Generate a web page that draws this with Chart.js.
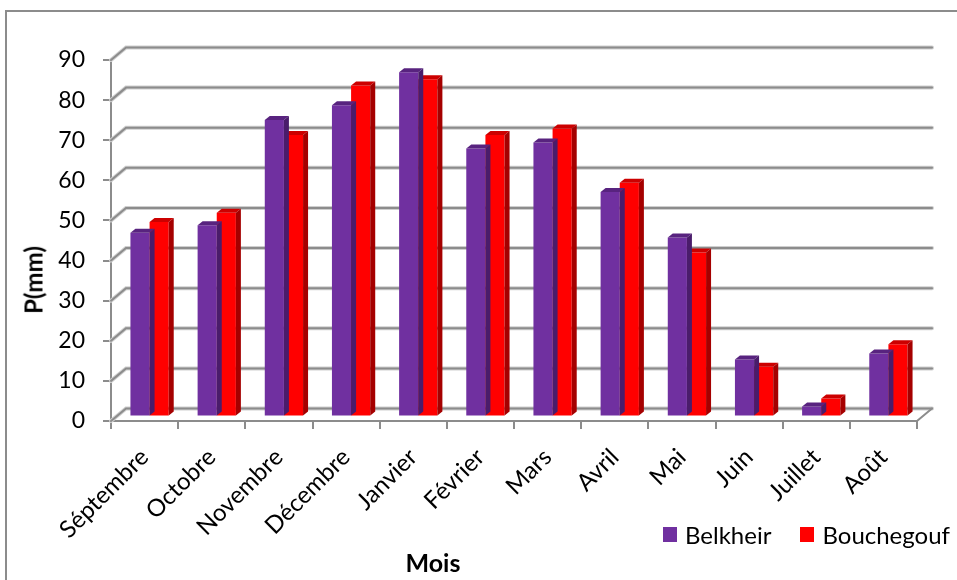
<!DOCTYPE html>
<html lang="fr">
<head>
<meta charset="utf-8">
<title>Précipitations mensuelles</title>
<script src="https://cdn.jsdelivr.net/npm/chart.js@4/dist/chart.umd.min.js"></script>
<style>
  html, body { margin: 0; padding: 0; background: #fff; overflow: hidden; }
  #wrap { position: relative; width: 957px; height: 580px; font-family: Lato, "Open Sans", sans-serif; }
  #frame { position: absolute; left: 5px; top: 10px; width: 1000px; height: 620px; border: 2px solid #8c8c8c; box-sizing: border-box; }
  canvas { position: absolute; left: 0; top: 0; }
  .title { position: absolute; font-weight: bold; color: #000; white-space: nowrap; }
  #ytitle { left: 33px; top: 280px; font-size: 24px; transform: translate(-50%, -50%) rotate(-90deg); }
  #xtitle { left: 433px; top: 562px; font-size: 25px; transform: translate(-50%, -50%); }
  #legend { position: absolute; left: 663px; top: 520px; display: flex; align-items: center; font-size: 24px; color: #000; }
  #legend .item { display: flex; align-items: center; margin-right: 29px; }
  #legend .item:last-child { margin-right: 0; }
  #legend .sw { width: 14px; height: 15px; margin-right: 8px; }
</style>
</head>
<body>
<div id="wrap">
  <div id="frame"></div>
  <canvas id="chart" width="957" height="580"></canvas>
  <div class="title" id="ytitle">P(mm)</div>
  <div class="title" id="xtitle">Mois</div>
  <div id="legend"></div>
</div>
<script>
// Monthly precipitation (mm) at two stations
const months = ['Séptembre', 'Octobre', 'Novembre', 'Décembre', 'Janvier', 'Février',
                'Mars', 'Avril', 'Mai', 'Juin', 'Juillet', 'Août'];
const belkheir   = [45.8, 47.7, 73.9, 77.6, 85.8, 66.8, 68.3, 56.0, 44.6, 14.2, 2.5, 15.7];
const bouchegouf = [48.5, 50.8, 70.2, 82.5, 84.1, 70.2, 71.8, 58.3, 40.9, 12.4, 4.5, 18.0];
const seriesNames = ['Belkheir', 'Bouchegouf'];
const yMin = 0, yMax = 90, yStep = 10;

// face colours: front, top, side
const faces = [
  { front: '#7030A0', top: '#58237f', side: '#4a1c6b' },
  { front: '#FF0000', top: '#cc0000', side: '#a50000' }
];
const GRID = '#8c8c8c';
const FONT = 'Lato, "Open Sans", sans-serif';

// pseudo-3D geometry
const WALL = { dx: 15, dy: -12.5 };     // back wall relative to the front axis plane
const BAR_SHIFT = { dx: 5, dy: -4.5 };  // bars sit a little behind the front plane
const BAR_DEPTH = { dx: 5, dy: -4 };    // visible thickness of each bar

const depth3d = {
  id: 'depth3d',
  beforeDatasetsDraw(chart) {
    const { ctx, chartArea: a, scales: { y } } = chart;
    ctx.save();
    ctx.lineCap = 'round';
    // back wall grid lines with their diagonal side-wall connectors
    y.ticks.forEach(t => {
      const py = y.getPixelForValue(t.value);
      ctx.beginPath();
      ctx.moveTo(a.left, py);
      ctx.lineTo(a.left + WALL.dx, py + WALL.dy);
      ctx.lineTo(a.right + WALL.dx, py + WALL.dy);
      ctx.strokeStyle = '#cfcfcf';
      ctx.lineWidth = 4;
      ctx.stroke();
      ctx.strokeStyle = GRID;
      ctx.lineWidth = 2;
      ctx.stroke();
    });
    // right edge of the floor
    ctx.beginPath();
    ctx.moveTo(a.right, a.bottom);
    ctx.lineTo(a.right + WALL.dx, a.bottom + WALL.dy);
    ctx.strokeStyle = GRID;
    ctx.lineWidth = 2;
    ctx.stroke();
    ctx.restore();

    ctx.save();
    ctx.translate(BAR_SHIFT.dx, BAR_SHIFT.dy);
  },
  afterDatasetDraw(chart, args) {
    const ctx = chart.ctx;
    const c = faces[args.index];
    args.meta.data.forEach(bar => {
      const { x, y, base, width } = bar.getProps(['x', 'y', 'base', 'width'], true);
      const l = x - width / 2, r = x + width / 2;
      const d = BAR_DEPTH;
      ctx.fillStyle = c.top;
      ctx.beginPath();
      ctx.moveTo(l, y);
      ctx.lineTo(l + d.dx, y + d.dy);
      ctx.lineTo(r + d.dx, y + d.dy);
      ctx.lineTo(r, y);
      ctx.closePath();
      ctx.fill();
      ctx.fillStyle = c.side;
      ctx.beginPath();
      ctx.moveTo(r, y);
      ctx.lineTo(r + d.dx, y + d.dy);
      ctx.lineTo(r + d.dx, base + d.dy);
      ctx.lineTo(r, base);
      ctx.closePath();
      ctx.fill();
    });
  },
  afterDatasetsDraw(chart) {
    chart.ctx.restore();
  }
};

new Chart(document.getElementById('chart'), {
  type: 'bar',
  data: {
    labels: months,
    datasets: [
      { label: seriesNames[0], data: belkheir, backgroundColor: faces[0].front },
      { label: seriesNames[1], data: bouchegouf, backgroundColor: faces[1].front }
    ]
  },
  options: {
    responsive: false,
    devicePixelRatio: 1,
    animation: false,
    layout: { padding: { left: 0, top: 60, right: 40, bottom: 0 } },
    datasets: { bar: { categoryPercentage: 0.57, barPercentage: 1, borderWidth: 0 } },
    plugins: { legend: { display: false }, tooltip: { enabled: false } },
    scales: {
      x: {
        afterFit(s) { s.height = 159; },
        grid: { display: true, drawOnChartArea: false, drawTicks: true, tickLength: 8, offset: true, color: GRID, lineWidth: 2 },
        border: { display: true, color: GRID, width: 2 },
        ticks: { color: '#000', font: { family: FONT, size: 24 }, maxRotation: 45, minRotation: 45, autoSkip: false, padding: 14 }
      },
      y: {
        min: yMin, max: yMax,
        afterFit(s) { s.width = 111; },
        grid: { display: true, drawOnChartArea: false, drawTicks: true, tickLength: 8, color: GRID, lineWidth: 2 },
        border: { display: true, color: GRID, width: 2 },
        ticks: { stepSize: yStep, color: '#000', font: { family: FONT, size: 23 }, padding: 18 }
      }
    }
  },
  plugins: [depth3d]
});

// legend
const legend = document.getElementById('legend');
seriesNames.forEach((name, i) => {
  const item = document.createElement('div');
  item.className = 'item';
  const sw = document.createElement('span');
  sw.className = 'sw';
  sw.style.background = faces[i].front;
  const txt = document.createElement('span');
  txt.textContent = name;
  item.appendChild(sw);
  item.appendChild(txt);
  legend.appendChild(item);
});
</script>
</body>
</html>
